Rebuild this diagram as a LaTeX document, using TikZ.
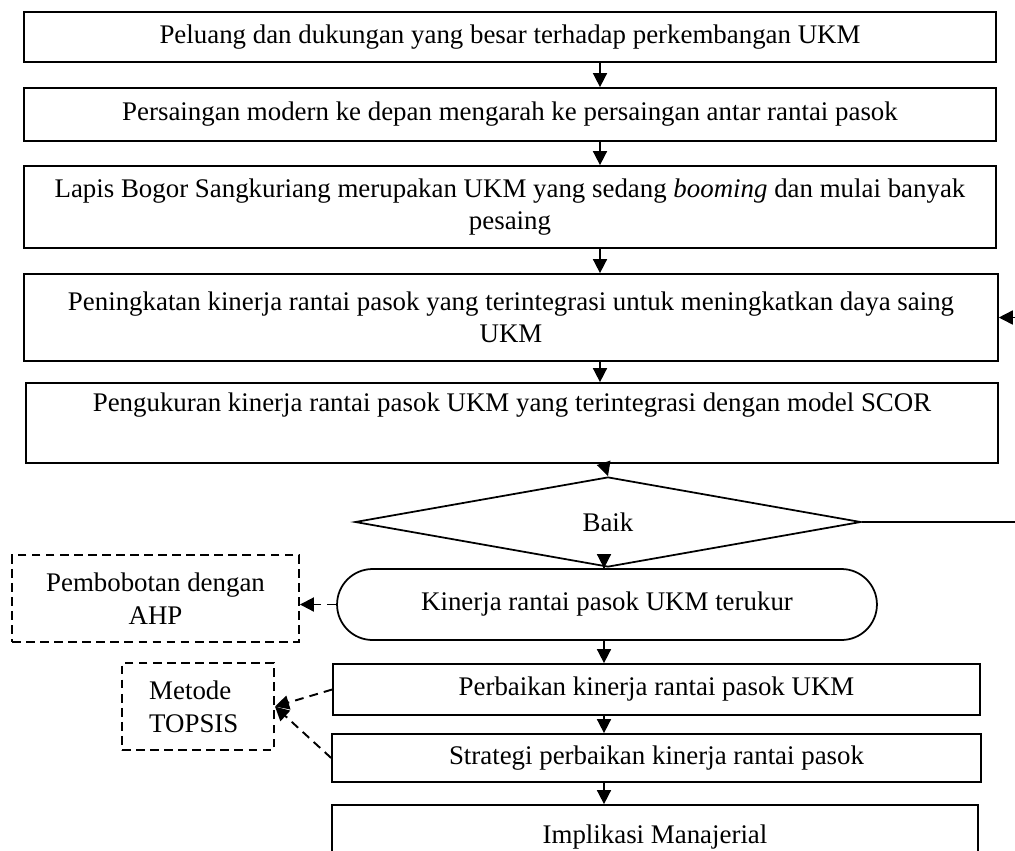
\documentclass[tikz,border=0pt]{standalone}
\usepackage{fontspec}
\setmainfont{Liberation Serif}
\usetikzlibrary{arrows.meta,shapes.geometric,shapes.misc}

\begin{document}
\begin{tikzpicture}[x=0.02cm, y=-0.02cm,
    every node/.style={font=\fontsize{15.3}{18.5}\selectfont},
    flowbox/.style={draw, line width=1pt, align=center, inner sep=0pt},
    dashbox/.style={draw, line width=1.1pt, dash pattern=on 5pt off 3pt, inner sep=0pt},
    arr/.style={line width=0.9pt, -{Triangle[length=8pt,width=8pt]}},
    dasharr/.style={arr, line width=1.1pt, dash pattern=on 5pt off 3.5pt}]
        \useasboundingbox (0,0) rectangle (1015,850);

        % main column
        \node[flowbox, minimum width=19.44cm, minimum height=1.0cm] (peluang) at (510, 37)
            {Peluang dan dukungan yang besar terhadap perkembangan UKM};
        \node[flowbox, minimum width=19.44cm, minimum height=1.06cm] (saing) at (510, 114.5)
            {Persaingan modern ke depan mengarah ke persaingan antar rantai pasok};
        \node[flowbox, minimum width=19.44cm, minimum height=1.64cm] (lapis) at (510, 207)
            {Lapis Bogor Sangkuriang merupakan UKM yang sedang \emph{booming} dan mulai banyak\\ pesaing};
        \node[flowbox, minimum width=19.48cm, minimum height=1.74cm] (tingkat) at (511, 317.5)
            {Peningkatan kinerja rantai pasok yang terintegrasi untuk meningkatkan daya saing\\ UKM};
        \node[flowbox, minimum width=19.44cm, minimum height=1.6cm] (ukur) at (512, 423)
            {Pengukuran kinerja rantai pasok UKM yang terintegrasi dengan model SCOR\\ \strut};

        % decision and lower column
        \node[draw, diamond, line width=1pt, inner sep=0pt, minimum width=10.12cm,
            minimum height=1.8cm] (baik) at (608, 522) {Baik};
        \node[draw, rounded rectangle, line width=1pt, inner sep=0pt, minimum width=10.8cm,
            minimum height=1.42cm] (terukur) at (607, 604.5) {Kinerja rantai pasok UKM terukur};
        \node[flowbox, minimum width=12.94cm, minimum height=1.02cm] (perbaikan) at (656.5, 689.5)
            {Perbaikan kinerja rantai pasok UKM};
        \node[flowbox, minimum width=12.98cm, minimum height=0.96cm] (strategi) at (656.5, 758)
            {Strategi perbaikan kinerja rantai pasok};
        \node[flowbox, minimum width=12.92cm, minimum height=1.28cm] (implikasi) at (655, 837)
            {Implikasi Manajerial};

        % methods on the left
        \node[dashbox, align=center, minimum width=5.74cm, minimum height=1.74cm] (ahp) at (155.5, 598.5)
            {Pembobotan dengan\\ AHP};
        \node[dashbox, minimum width=3.04cm, minimum height=1.74cm] (topsis) at (198, 706.5) {};
        \node[align=left, anchor=west] (topsistext) at (143, 707) {Metode\\ TOPSIS};

        \coordinate (ax) at (600, 0); \coordinate (bx) at (604, 0);

        % arrows
        \draw[arr] (peluang.south -| ax) -- (saing.north -| ax);
        \draw[arr] (saing.south -| ax) -- (lapis.north -| ax);
        \draw[arr] (lapis.south -| ax) -- (tingkat.north -| ax);
        \draw[arr] (tingkat.south -| ax) -- (ukur.north -| ax);
        \draw[arr] (ukur.south -| bx) -- (baik.north);
        \draw[arr] (baik.south -| bx) -- (terukur.north -| bx);
        \draw[arr] (terukur.south -| bx) -- (perbaikan.north -| bx);
        \draw[arr] (perbaikan.south -| bx) -- (strategi.north -| bx);
        \draw[arr] (strategi.south -| bx) -- (implikasi.north -| bx);
        \draw[arr] (baik.east) -- ++(165, 0) |- (tingkat.east);

        \draw[dasharr] (terukur.west) -- (terukur.west -| ahp.east);
        \draw[dasharr] (perbaikan.west) -- (topsis.east);
        \draw[dasharr] (strategi.west) -- (topsis.east);
\end{tikzpicture}
\end{document}
